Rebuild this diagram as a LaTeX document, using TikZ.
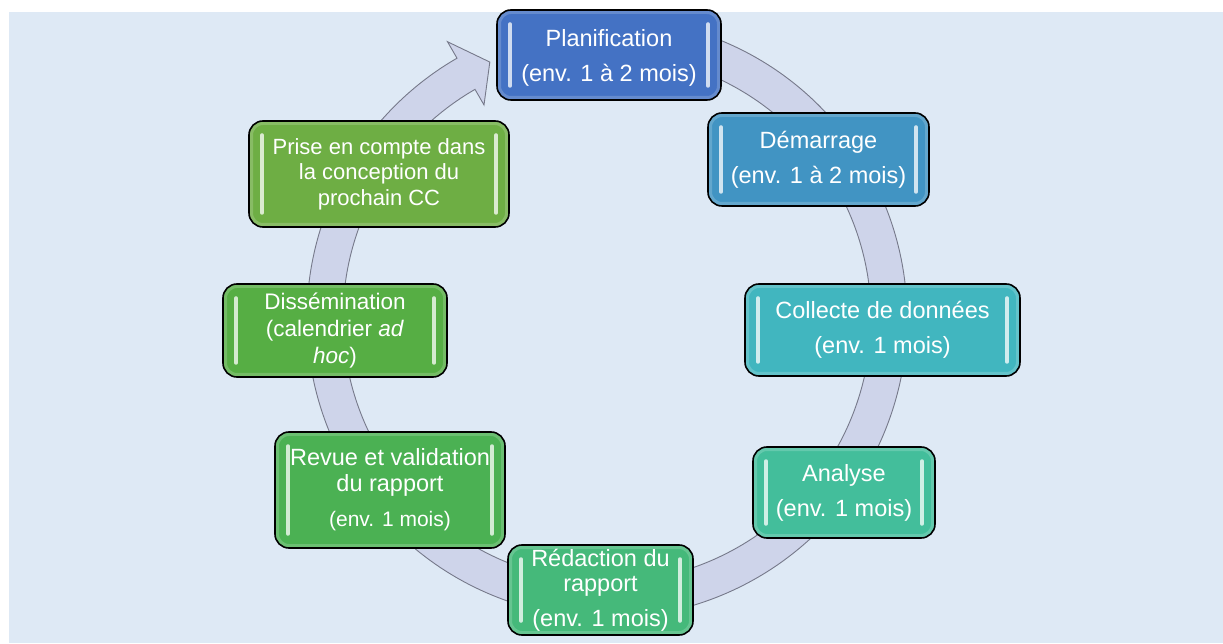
\documentclass[tikz,border=0pt]{standalone}
\usepackage{fontspec}
\setmainfont{Liberation Sans}
\usepackage{tikz}
\usetikzlibrary{positioning}
\usepackage{xcolor}
\definecolor{bgblue}{HTML}{DEE9F5}
\definecolor{ringfill}{HTML}{CED4EA}
\definecolor{ringline}{HTML}{76798A}
\definecolor{planblue}{HTML}{4472C4}
\definecolor{demarblue}{HTML}{4194C3}
\definecolor{collteal}{HTML}{41B6BF}
\definecolor{analteal}{HTML}{43BE9B}
\definecolor{redacgreen}{HTML}{45B97A}
\definecolor{revuegreen}{HTML}{4BB153}
\definecolor{dissgreen}{HTML}{56AE44}
\definecolor{prisegreen}{HTML}{6EAE44}

\tikzset{
  stage/.style={fill=#1, draw=black, line width=1.6pt, rounded corners=14pt,
    text=white, align=center, inner sep=0pt,
    font=\fontsize{23.5}{35}\selectfont,
    path picture={
      \draw[white, opacity=.18, line width=8pt, rounded corners=14pt]
        (path picture bounding box.south west) rectangle (path picture bounding box.north east);
      \draw[white!75!#1, line width=3.5pt, line cap=round]
        ([shift={(13pt,14pt)}]path picture bounding box.south west) -- ([shift={(13pt,-14pt)}]path picture bounding box.north west)
        ([shift={(-13pt,14pt)}]path picture bounding box.south east) -- ([shift={(-13pt,-14pt)}]path picture bounding box.north east);
    }},
  threeline/.style={font=\fontsize{22}{25.5}\selectfont},
}

\begin{document}
\begin{tikzpicture}[x=1pt, y=1pt]
  \useasboundingbox (0,0) rectangle (1223,643);
  \fill[bgblue] (9,0) rectangle (1223,631);

  % cycle arrow
  \begin{scope}[shift={(607,325)}]
    \draw[ringline, line width=0.9pt, fill=ringfill]
      (70:300) arc[start angle=70, end angle=-240, radius=300]
      -- (120:319) -- (114.6:281.5) -- (120:246) -- (120:264)
      arc[start angle=-240, end angle=70, radius=264] -- cycle;
  \end{scope}

  % stages
  \node[stage=planblue, minimum width=224, minimum height=90, text depth=-3pt] (plan) at (609,588)
    {Planification\\(env. 1 à 2 mois)};
  \node[stage=demarblue, minimum width=221, minimum height=93] (demar) at (818.5,483.5)
    {Démarrage\\(env. 1 à 2 mois)};
  \node[stage=collteal, minimum width=275, minimum height=92] (collecte) at (882.5,313)
    {Collecte de données\\(env. 1 mois)};
  \node[stage=analteal, minimum width=182, minimum height=91] (analyse) at (844,150.5)
    {Analyse\\(env. 1 mois)};
  \node[stage=redacgreen, minimum width=185, minimum height=90,
    font=\fontsize{23.5}{25}\selectfont] (redac) at (600.5,53)
    {Rédaction du\\rapport\\[10pt](env. 1 mois)};
  \node[stage=revuegreen, minimum width=230, minimum height=116,
    font=\fontsize{23.5}{26}\selectfont] (revue) at (390,153)
    {Revue et validation\\du rapport\\[9pt]{\fontsize{21}{21}\selectfont(env. 1 mois)}};
  \node[stage=dissgreen, minimum width=224, minimum height=93, threeline,
    font=\fontsize{22.5}{27}\selectfont] (dissem) at (335,312.5)
    {Dissémination\\(calendrier \textit{ad}\\\textit{hoc})};
  \node[stage=prisegreen, minimum width=260, minimum height=106, threeline] (prise) at (379,469)
    {Prise en compte dans\\la conception du\\prochain CC};
\end{tikzpicture}
\end{document}
